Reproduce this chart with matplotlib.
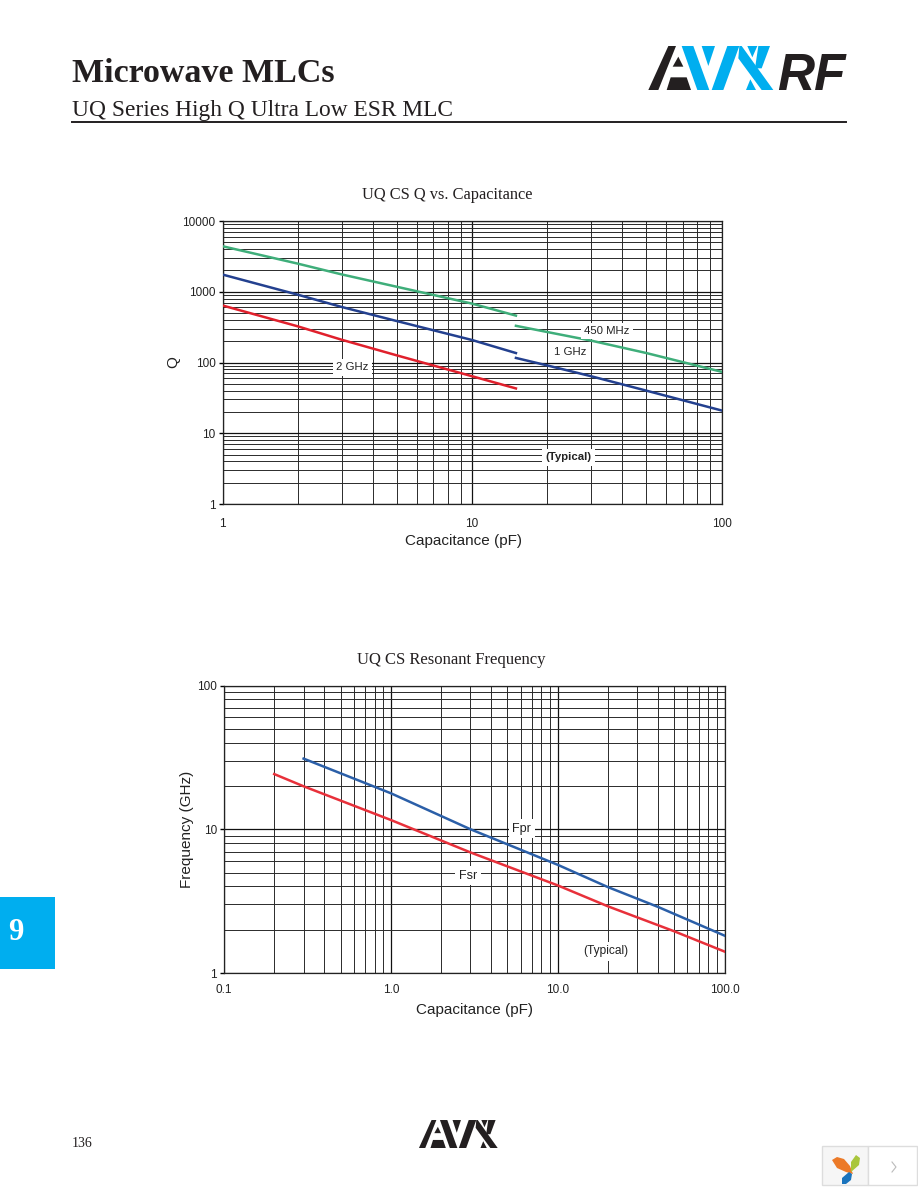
#UQ series Q and resonant frequency charts
import matplotlib as mp
mp.use('Agg')
import matplotlib.pyplot as plt
from matplotlib.patches import Polygon, Rectangle
from matplotlib.ticker import FixedLocator, NullFormatter

W, H = 918, 1188
SERIF = 'Liberation Serif'
SANS = 'Liberation Sans'
CYAN = '#00aeef'
DARK = '#231f20'

# chart 1: Q vs capacitance
q_cap_low = [1, 2, 3, 5, 10, 15]
q_450_low = [4400, 2500, 1760, 1175, 680, 460]
q_1g_low = [1750, 910, 610, 385, 208, 136]
q_2g = [640, 325, 210, 126, 64, 43]
q_cap_high = [15, 20, 30, 50, 100]
q_450_high = [330, 270, 204, 136, 74]
q_1g_high = [116, 91, 64, 40, 21]

# chart 2: resonant frequency
fpr_cap = [0.3, 1, 3, 10, 20, 40, 100]
fpr = [31, 17.8, 10, 5.66, 3.96, 2.88, 1.82]
fsr_cap = [0.2, 0.3, 1, 3, 10, 20, 50, 100]
fsr = [24.2, 19.9, 11.6, 6.9, 4.07, 2.91, 1.95, 1.41]


def minors(lo, hi):
    out = []
    d = lo
    while d < hi:
        out += [d * k for k in range(2, 10)]
        d *= 10
    return out


def px_axes(fig, left, top, right, bottom):
    return fig.add_axes([left / W, 1 - bottom / H, (right - left) / W, (bottom - top) / H])


def setup(ax, xlim, ylim, xticks, xlabels, yticks, ylabels, xlabel, ylabel, ylab_x, xlab_x, xlab_y, xpad):
    ax.set_xscale('log')
    ax.set_yscale('log')
    ax.set_xlim(xlim)
    ax.set_ylim(ylim)
    ax.xaxis.set_major_locator(FixedLocator(xticks))
    ax.yaxis.set_major_locator(FixedLocator(yticks))
    ax.xaxis.set_minor_locator(FixedLocator(minors(*xlim)))
    ax.yaxis.set_minor_locator(FixedLocator(minors(*ylim)))
    ax.xaxis.set_minor_formatter(NullFormatter())
    ax.yaxis.set_minor_formatter(NullFormatter())
    ax.set_xticklabels(xlabels, fontsize=8.5, fontfamily=SANS, color='#222222')
    ax.set_yticklabels(ylabels, fontsize=8.5, fontfamily=SANS, color='#222222')
    ax.tick_params(axis='y', which='major', length=3, width=1, pad=2)
    ax.tick_params(axis='x', which='major', length=0, pad=xpad)
    ax.tick_params(which='minor', length=0)
    ax.grid(True, which='major', color='#111111', linewidth=0.9)
    ax.grid(True, which='minor', color='#2a2a2a', linewidth=0.7)
    ax.set_axisbelow(True)
    for s in ax.spines.values():
        s.set_linewidth(0.9)
        s.set_color('#222222')
    ax.set_xlabel(xlabel, fontsize=11, fontfamily=SANS, color='#222222')
    ax.set_ylabel(ylabel, fontsize=11, fontfamily=SANS, color='#222222')
    ax.xaxis.set_label_coords(xlab_x, xlab_y)
    ax.yaxis.set_label_coords(ylab_x, 0.5)


def label(ax, x, y, s, size=8.2, weight='normal'):
    ax.text(x, y, s, fontsize=size, fontfamily=SANS, fontweight=weight, color='#222222',
            ha='center', va='center', zorder=5,
            bbox=dict(facecolor='white', edgecolor='none', pad=2.5))


def logo(page, x0, y0, sx, sy, blue, black):
    # shapes measured on a 645x180 crop of the logo
    black_shapes = [
        [(25, 150), (85, 18), (108, 18), (55, 150)],
        [(98, 80), (115, 50), (130, 80)],
        [(80, 150), (92, 112), (140, 112), (153, 150)],
    ]
    blue_shapes = [
        [(125, 18), (160, 18), (208, 150), (172, 150)],
        [(185, 18), (225, 18), (205, 78)],
        [(215, 150), (262, 18), (298, 18), (250, 150)],
        [(295, 55), (298, 18), (305, 18), (400, 150), (365, 150)],
        [(322, 18), (352, 18), (337, 52)],
        [(355, 18), (390, 18), (365, 85), (345, 85)],
        [(318, 150), (348, 150), (331, 118)],
    ]
    for pts, col in [(p, black) for p in black_shapes] + [(p, blue) for p in blue_shapes]:
        page.add_patch(Polygon([(x0 + a * sx, y0 + b * sy) for a, b in pts], closed=True,
                               facecolor=col, edgecolor='none'))


def main():
    fig = plt.figure(figsize=(W / 100, H / 100), dpi=100, facecolor='white')
    page = fig.add_axes([0, 0, 1, 1], zorder=0)
    page.set_xlim(0, W)
    page.set_ylim(H, 0)
    page.axis('off')

    # header
    page.text(72, 82, 'Microwave MLCs', fontsize=24.5, fontfamily=SERIF, fontweight='bold', color=DARK, va='baseline')
    page.text(72, 116, 'UQ Series High Q Ultra Low ESR MLC', fontsize=16.8, fontfamily=SERIF, color=DARK, va='baseline')
    page.plot([72, 846], [122, 122], color=DARK, linewidth=1.4)
    logo(page, 640, 40, 1 / 3, 1 / 3, CYAN, DARK)
    page.text(846, 90, 'RF', fontsize=37, fontfamily=SANS, fontweight='bold', fontstyle='italic',
              color=DARK, ha='right', va='baseline')

    # chart titles
    page.text(447, 195, 'UQ CS Q vs. Capacitance', fontsize=11.8, fontfamily=SERIF, color=DARK, ha='center', va='center')
    page.text(451, 660, 'UQ CS Resonant Frequency', fontsize=12, fontfamily=SERIF, color=DARK, ha='center', va='center')

    # section tab
    page.add_patch(Rectangle((0, 897), 55, 72, facecolor=CYAN, edgecolor='none'))
    page.text(16, 932, '9', fontsize=22, fontfamily=SERIF, fontweight='bold', color='white', ha='center', va='center')

    # footer
    page.text(72, 1147, '136', fontsize=10, fontfamily=SERIF, color=DARK, va='baseline')
    logo(page, 413.7, 1116.2, 0.21, 0.212, DARK, DARK)

    # viewer widget, bottom right
    page.add_patch(Rectangle((822, 1146), 46, 39, facecolor='#f6f6f6', edgecolor='#dddddd', linewidth=1))
    page.add_patch(Rectangle((868, 1146), 49, 39, facecolor='white', edgecolor='#dddddd', linewidth=1))
    page.add_patch(Polygon([(832, 1160), (837, 1157), (844, 1159), (850, 1166), (853, 1174), (846, 1172), (837, 1168)],
                           facecolor='#ec7a28', edgecolor='none'))
    page.add_patch(Polygon([(851, 1172), (851, 1162), (856, 1155), (860, 1158), (859, 1165)], facecolor='#a9c63c', edgecolor='none'))
    page.add_patch(Polygon([(842, 1184), (842, 1178), (849, 1172), (852, 1174), (851, 1180), (846, 1184)], facecolor='#1a74bd', edgecolor='none'))
    page.plot([892, 896, 892], [1162, 1167, 1172], color='#bbbbbb', linewidth=0.8)

    # Q chart
    ax1 = px_axes(fig, 222.5, 221, 721.5, 504)
    setup(ax1, (1, 100), (1, 10000), [1, 10, 100], ['1', '10', '100'],
          [1, 10, 100, 1000, 10000], ['1', '10', '100', '1000', '10000'],
          'Capacitance (pF)', 'Q', -0.085, 0.482, -0.105, 10)
    ax1.patch.set_alpha(0)
    ax1.plot(q_cap_low, q_450_low, color='#3fae7a', linewidth=1.8, zorder=3)
    ax1.plot(q_cap_high, q_450_high, color='#3fae7a', linewidth=1.8, zorder=3)
    ax1.plot(q_cap_low, q_1g_low, color='#23408f', linewidth=1.8, zorder=3)
    ax1.plot(q_cap_high, q_1g_high, color='#23408f', linewidth=1.8, zorder=3)
    ax1.plot(q_cap_low, q_2g, color='#e0202c', linewidth=1.8, zorder=3)
    label(ax1, 34.8, 279, '450 MHz')
    label(ax1, 24.7, 140, '1 GHz')
    label(ax1, 3.32, 86, '2 GHz')
    label(ax1, 24.3, 4.6, '(Typical)', size=8.2, weight='bold')

    # frequency chart
    ax2 = px_axes(fig, 224, 685.5, 724.5, 973)
    setup(ax2, (0.1, 100), (1, 100), [0.1, 1, 10, 100], ['0.1', '1.0', '10.0', '100.0'],
          [1, 10, 100], ['1', '10', '100'],
          'Capacitance (pF)', 'Frequency (GHz)', -0.06, 0.5, -0.105, 8)
    ax2.patch.set_alpha(0)
    ax2.plot(fpr_cap, fpr, color='#2b5fa8', linewidth=1.8, zorder=3)
    ax2.plot(fsr_cap, fsr, color='#e8303a', linewidth=1.8, zorder=3)
    label(ax2, 6.1, 10.1, 'Fpr', size=9)
    label(ax2, 2.9, 4.75, 'Fsr', size=9)
    label(ax2, 19.5, 1.42, '(Typical)', size=8.6)

    fig.savefig('out.png', dpi=100)


if __name__ == "__main__":
    main()
